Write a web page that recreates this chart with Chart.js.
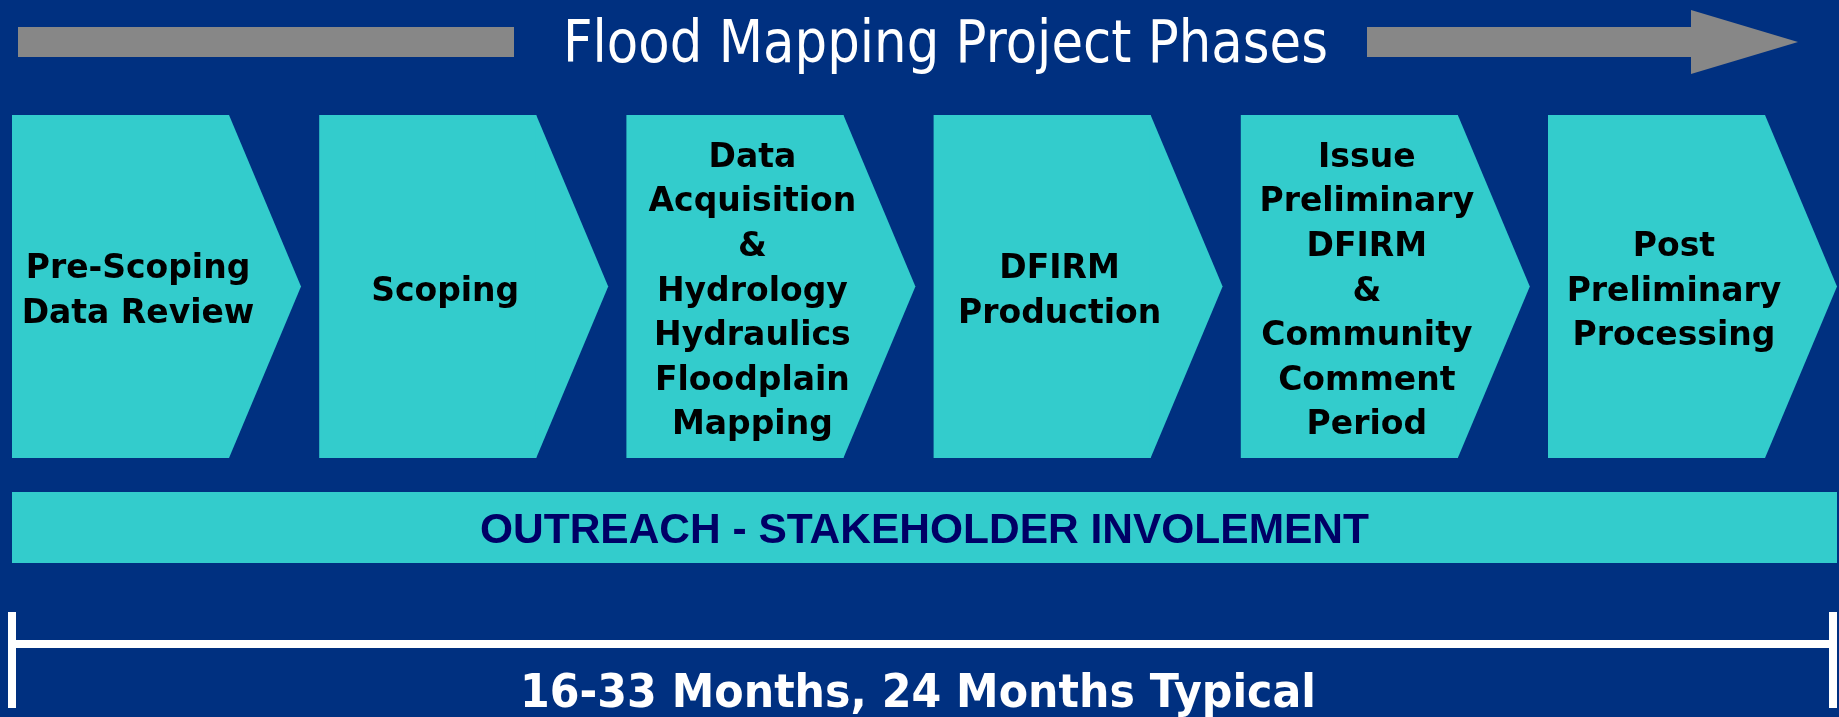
<!DOCTYPE html>
<html>
<head>
<meta charset="utf-8">
<script src="https://cdn.jsdelivr.net/npm/chart.js@4.4.0/dist/chart.umd.min.js"></script>
<style>
  html, body { margin: 0; padding: 0; background: #003080; }
  #wrap { width: 1839px; height: 717px; position: relative; }
</style>
</head>
<body>
<div id="wrap"><canvas id="phaseChart"></canvas></div>
<script>
// phases of the project, one array of text lines per chevron
const chartTitle = 'Flood Mapping Project Phases';
const phases = [
  ['Pre-Scoping', 'Data Review'],
  ['Scoping'],
  ['Data', 'Acquisition', '&', 'Hydrology', 'Hydraulics', 'Floodplain', 'Mapping'],
  ['DFIRM', 'Production'],
  ['Issue', 'Preliminary', 'DFIRM', '&', 'Community', 'Comment', 'Period'],
  ['Post', 'Preliminary', 'Processing']
];
const phaseSpan = [1, 1, 1, 1, 1, 1];
const outreachLabel = 'OUTREACH - STAKEHOLDER INVOLEMENT';
const durationLabel = '16-33 Months, 24 Months Typical';

const TEAL = '#33CCCC';
const GRAY = '#878787';
const NAVY = '#000066';

// draw centred text squeezed/stretched to a given width
function fitText(ctx, text, font, cx, baseline, width, color) {
  ctx.save();
  ctx.font = font;
  ctx.fillStyle = color;
  ctx.textAlign = 'center';
  ctx.textBaseline = 'alphabetic';
  const w = ctx.measureText(text).width;
  const s = width ? width / w : 1;
  ctx.translate(cx, baseline);
  ctx.scale(s, 1);
  ctx.fillText(text, 0, 0);
  ctx.restore();
}

const phaseDiagram = {
  id: 'phaseDiagram',
  afterDatasetsDraw(chart) {
    const ctx = chart.ctx;
    const meta = chart.getDatasetMeta(0);
    const area = chart.chartArea;
    const tip = 72;
    let firstLeft = 0, lastTip = 0;

    ctx.save();
    meta.data.forEach((bar, i) => {
      const p = bar.getProps(['x', 'y', 'base', 'width'], true);
      const left = p.x - p.width / 2;
      const right = p.x + p.width / 2;
      const top = Math.min(p.y, p.base);
      const bottom = Math.max(p.y, p.base);
      const mid = (top + bottom) / 2;
      if (i === 0) firstLeft = left;
      lastTip = right + tip;

      // arrow point of the chevron
      ctx.fillStyle = TEAL;
      ctx.beginPath();
      ctx.moveTo(right - 1, top);
      ctx.lineTo(right, top);
      ctx.lineTo(right + tip, mid);
      ctx.lineTo(right, bottom);
      ctx.lineTo(right - 1, bottom);
      ctx.closePath();
      ctx.fill();

      // phase text
      const lines = phases[i];
      ctx.font = 'bold 33px "DejaVu Sans"';
      ctx.fillStyle = '#000000';
      ctx.textAlign = 'center';
      ctx.textBaseline = 'alphabetic';
      lines.forEach((ln, j) => {
        const cy = mid + 2 + (j - (lines.length - 1) / 2) * 44.6;
        ctx.fillText(ln, p.x + 17.5, cy + 12);
      });
    });

    // outreach band under the phases
    const bandTop = area.bottom + 34;
    ctx.fillStyle = TEAL;
    ctx.fillRect(firstLeft, bandTop, lastTip - firstLeft, 71);
    fitText(ctx, outreachLabel, 'bold 42px "Liberation Sans"', (firstLeft + lastTip) / 2, bandTop + 51, 889, NAVY);

    // duration bracket
    ctx.fillStyle = '#FFFFFF';
    const bl = firstLeft - 4, br = lastTip;
    ctx.fillRect(bl, 612, 8, 96);
    ctx.fillRect(br - 8, 612, 8, 96);
    ctx.fillRect(bl, 640, br - bl, 8);
    fitText(ctx, durationLabel, 'bold 47px "DejaVu Sans"', 918, 706.5, 796, '#FFFFFF');

    // title with grey arrow
    ctx.fillStyle = GRAY;
    ctx.fillRect(18, 27, 496, 30);
    ctx.beginPath();
    ctx.moveTo(1367, 27);
    ctx.lineTo(1691, 27);
    ctx.lineTo(1691, 10);
    ctx.lineTo(1798, 42);
    ctx.lineTo(1691, 74);
    ctx.lineTo(1691, 57);
    ctx.lineTo(1367, 57);
    ctx.closePath();
    ctx.fill();
    fitText(ctx, chartTitle, '58px "DejaVu Sans"', 945.5, 62, 765, '#FFFFFF');
    ctx.restore();
  }
};

new Chart(document.getElementById('phaseChart'), {
  type: 'bar',
  data: {
    labels: phases.map(p => p.join(' ')),
    datasets: [{
      data: phaseSpan,
      backgroundColor: TEAL,
      borderWidth: 0,
      inflateAmount: 0,
      barThickness: 217,
      clip: false
    }]
  },
  options: {
    responsive: true,
    maintainAspectRatio: false,
    animation: false,
    layout: {
      padding: { left: 120.5, right: 182.5, top: 115, bottom: 259 }
    },
    plugins: {
      legend: { display: false },
      tooltip: { enabled: false },
      title: { display: false }
    },
    scales: {
      x: { display: false, offset: false },
      y: { display: false, min: 0, max: 1 }
    }
  },
  plugins: [phaseDiagram]
});
</script>
</body>
</html>
